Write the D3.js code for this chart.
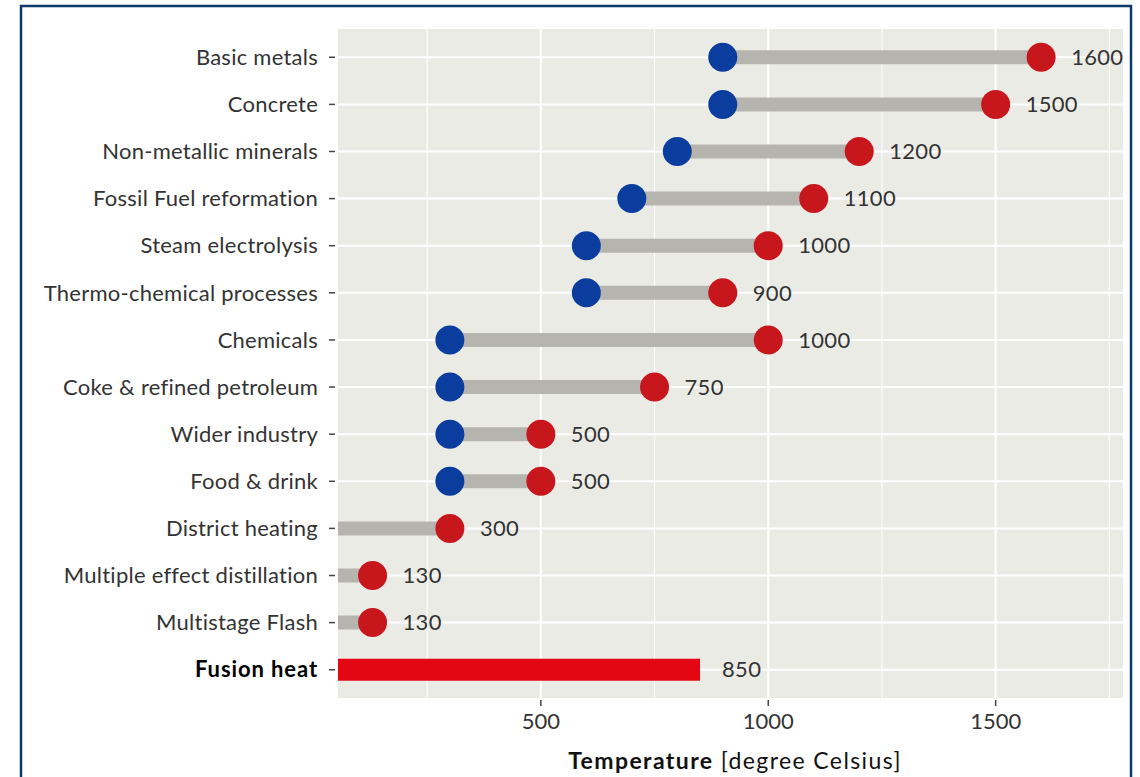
<!DOCTYPE html>
<html><head><meta charset="utf-8">
<script src="https://cdn.jsdelivr.net/npm/d3@7"></script>
<style>
html,body{margin:0;padding:0;background:#fff;}
svg{display:block;}
text{font-family:"Lato","DejaVu Sans",sans-serif;}
</style></head>
<body><svg id="chart" width="1140" height="777"></svg>
<script>
const categories = ["Basic metals","Concrete","Non-metallic minerals","Fossil Fuel reformation","Steam electrolysis","Thermo-chemical processes","Chemicals","Coke & refined petroleum","Wider industry","Food & drink","District heating","Multiple effect distillation","Multistage Flash","Fusion heat"];
const minTemp = [900,900,800,700,600,600,300,300,300,300,null,null,null,null];
const maxTemp = [1600,1500,1200,1100,1000,900,1000,750,500,500,300,130,130,null];
const fusionHeat = 850;
const xTicks = [500,1000,1500];
const xMinor = [250,750,1250,1750];

const svg = d3.select("#chart");
const panel = {left:338, right:1123, top:29, bottom:698};
const FS = 22;

// frame
svg.append("rect").attr("x",21).attr("y",6).attr("width",1110).attr("height",780)
  .attr("fill","#fff").attr("stroke","#0d3a68").attr("stroke-width",2.5);

const x = d3.scaleLinear().domain([54,1780]).range([panel.left,panel.right]);
const y = d3.scalePoint().domain(categories).range([panel.top,panel.bottom]).padding(0.6);

const g = svg.append("g");
g.append("rect").attr("x",panel.left).attr("y",panel.top)
  .attr("width",panel.right-panel.left).attr("height",panel.bottom-panel.top).attr("fill","#ebebe6");

// grid
g.selectAll(".minor").data(xMinor).join("line")
  .attr("x1",d=>x(d)).attr("x2",d=>x(d)).attr("y1",panel.top).attr("y2",panel.bottom)
  .attr("stroke","#fff").attr("stroke-width",1);
g.selectAll(".major").data(xTicks).join("line")
  .attr("x1",d=>x(d)).attr("x2",d=>x(d)).attr("y1",panel.top).attr("y2",panel.bottom)
  .attr("stroke","#fff").attr("stroke-width",2);
g.selectAll(".hgrid").data(categories).join("line")
  .attr("x1",panel.left).attr("x2",panel.right).attr("y1",d=>y(d)).attr("y2",d=>y(d))
  .attr("stroke","#fff").attr("stroke-width",2);

const rows = categories.map((c,i)=>({c, lo:minTemp[i], hi:maxTemp[i]})).filter(d=>d.hi!==null);

// segments
g.selectAll(".seg").data(rows).join("line")
  .attr("x1",d=>d.lo===null?panel.left:x(d.lo)).attr("x2",d=>x(d.hi))
  .attr("y1",d=>y(d.c)).attr("y2",d=>y(d.c))
  .attr("stroke","#b6b4af").attr("stroke-width",14);

// fusion bar
g.append("rect").attr("x",panel.left).attr("y",y("Fusion heat")-11)
  .attr("width",x(fusionHeat)-panel.left).attr("height",22).attr("fill","#e30613");

// dots
g.selectAll(".lo").data(rows.filter(d=>d.lo!==null)).join("circle")
  .attr("cx",d=>x(d.lo)).attr("cy",d=>y(d.c)).attr("r",14.5).attr("fill","#0b3d9e");
g.selectAll(".hi").data(rows).join("circle")
  .attr("cx",d=>x(d.hi)).attr("cy",d=>y(d.c)).attr("r",14.5).attr("fill","#c8161d");

// value labels
g.selectAll(".val").data(rows).join("text")
  .attr("x",d=>x(d.hi)+30).attr("y",d=>y(d.c)).attr("dy","0.35em")
  .attr("font-size",FS).attr("fill","#333").attr("letter-spacing",0.3).text(d=>d.hi);
g.append("text").attr("x",x(fusionHeat)+22).attr("y",y("Fusion heat")).attr("dy","0.35em")
  .attr("font-size",FS).attr("fill","#333").attr("letter-spacing",0.3).text(fusionHeat);

// y axis
const ya = g.append("g");
ya.selectAll("line").data(categories).join("line")
  .attr("x1",panel.left-9).attr("x2",panel.left-3).attr("y1",d=>y(d)).attr("y2",d=>y(d))
  .attr("stroke","#444").attr("stroke-width",1.5);
ya.selectAll("text").data(categories).join("text")
  .attr("x",panel.left-20).attr("y",d=>y(d)).attr("dy","0.35em").attr("text-anchor","end")
  .attr("font-size",FS).attr("fill",d=>d==="Fusion heat"?"#000":"#333")
  .attr("letter-spacing",d=>d==="Fusion heat"?0.9:0.25)
  .attr("font-weight",d=>d==="Fusion heat"?"bold":"normal").text(d=>d);

// x axis
const xa = g.append("g");
xa.selectAll("line").data(xTicks).join("line")
  .attr("x1",d=>x(d)).attr("x2",d=>x(d)).attr("y1",panel.bottom+2).attr("y2",panel.bottom+8)
  .attr("stroke","#444").attr("stroke-width",1.5);
xa.selectAll("text").data(xTicks).join("text")
  .attr("x",d=>x(d)).attr("y",panel.bottom+23).attr("dy","0.35em").attr("text-anchor","middle")
  .attr("font-size",FS).attr("fill","#333").text(d=>d);

const title = g.append("text").attr("x",735).attr("y",769).attr("text-anchor","middle")
  .attr("font-size",23).attr("fill","#111").attr("letter-spacing",1.4);
title.append("tspan").attr("font-weight","bold").text("Temperature");
title.append("tspan").text(" [degree Celsius]");
</script></body></html>
